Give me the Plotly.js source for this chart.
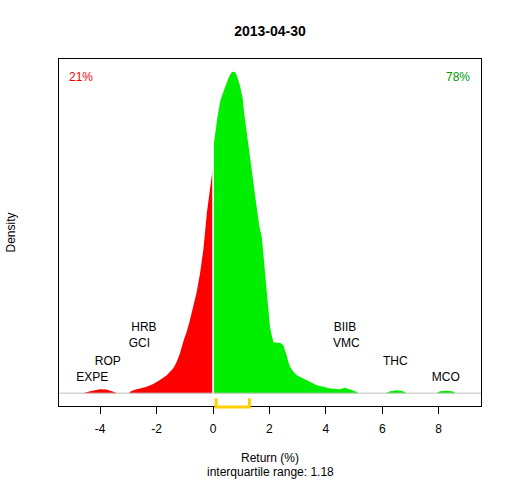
<!DOCTYPE html>
<html>
<head>
<meta charset="utf-8">
<script src="https://cdn.plot.ly/plotly-3.0.1.min.js"></script>
<style>html,body{margin:0;padding:0;background:#fff}#chart{width:512px;height:480px}</style>
</head>
<body>
<div id="chart"></div>
<script>
// Density of returns
const densX = [-4.61,-4.36,-4.01,-3.79,-3.58,-3.40,-2.99,-2.91,-2.77,-2.59,-2.35,-2.12,-1.88,-1.64,-1.40,-1.29,-1.17,-1.05,-0.93,-0.82,-0.70,-0.58,-0.46,-0.34,-0.22,-0.11,-0.05,-0.01,
  0.02,0.06,0.11,0.14,0.19,0.25,0.31,0.37,0.43,0.49,0.54,0.60,0.66,0.72,0.78,0.84,0.90,0.96,1.01,1.05,1.10,1.17,1.25,1.34,1.41,1.49,1.57,1.64,1.73,1.78,1.84,1.90,1.96,2.02,2.08,2.14,2.20,2.38,2.49,2.55,2.61,2.67,2.73,2.85,2.97,3.20,3.44,3.68,3.91,4.15,4.50,4.68,4.86,5.04,5.15,
  6.12,6.28,6.49,6.70,6.87,7.91,8.05,8.26,8.48,8.61];
const densY = [0,0.0025,0.005,0.0046,0.0025,0,0,0.0025,0.0044,0.0059,0.0079,0.0113,0.0163,0.0225,0.0313,0.039,0.05,0.065,0.077,0.091,0.108,0.126,0.15,0.18,0.225,0.254,0.275,0.281,
  0.31,0.318,0.3325,0.341,0.354,0.364,0.371,0.3775,0.384,0.389,0.393,0.3975,0.401,0.4016,0.401,0.3975,0.391,0.384,0.375,0.369,0.351,0.331,0.309,0.289,0.269,0.2475,0.229,0.209,0.195,0.175,0.145,0.12,0.10,0.0825,0.0725,0.064,0.0634,0.0629,0.06,0.054,0.0475,0.039,0.033,0.0266,0.0225,0.0184,0.0141,0.01,0.0079,0.0059,0.005,0.0066,0.0046,0.0025,0,
  0,0.0025,0.00375,0.003,0,0,0.0025,0.003,0.0025,0];

// Extreme stocks labels
const lowNames = ["EXPE","ROP","GCI","HRB"];
const lowX = [-4.28,-3.73,-2.61,-2.45];
const lowY = [0.0191,0.039,0.0609,0.0816];
const highNames = ["MCO","THC","VMC","BIIB"];
const highX = [8.25,6.46,4.73,4.68];
const highY = [0.0191,0.039,0.0609,0.0816];

const fracNeg = "21%";
const fracPos = "78%";
const quartiles = [0.11, 1.29];
const iqrText = "interquartile range: 1.18";
const dateTitle = "2013-04-30";
const tickVals = [-4,-2,0,2,4,6,8];

const negX=[], negY=[], posX=[], posY=[];
densX.forEach((x,i)=>{ if(x<=0){negX.push(x);negY.push(densY[i]);} else {posX.push(x);posY.push(densY[i]);} });
const yMax = Math.max(...densY);

const font = "Liberation Sans, Arial, sans-serif";
const traces = [
  {x:negX, y:negY, type:'scatter', mode:'lines', fill:'tozeroy', fillcolor:'#FF0000', line:{width:0, color:'#FF0000'}, hoverinfo:'skip'},
  {x:posX, y:posY, type:'scatter', mode:'lines', fill:'tozeroy', fillcolor:'#00EE00', line:{width:0, color:'#00EE00'}, hoverinfo:'skip'},
  {x:lowX.concat(highX), y:lowY.concat(highY), text:lowNames.concat(highNames), type:'scatter', mode:'text', textfont:{family:font,size:12,color:'#000'}, textposition:'middle center', hoverinfo:'skip'}
];

const layout = {
  width:512, height:480,
  margin:{l:59, r:31, t:59, b:74},
  paper_bgcolor:'#fff', plot_bgcolor:'#fff',
  showlegend:false,
  title:{text:'<b>'+dateTitle+'</b>', font:{family:font,size:14,color:'#000'}, x:0.5, xref:'paper', xanchor:'center', y:1-31/480, yref:'container', yanchor:'middle'},
  xaxis:{range:[-5.46,9.50], tickvals:tickVals, ticktext:tickVals.map(String), ticks:'outside', ticklen:7, tickcolor:'#000', tickwidth:1,
    ticklabelstandoff:5,
    showgrid:false, zeroline:false, showline:true, mirror:true, linecolor:'#000', linewidth:1,
    tickfont:{family:font,size:12,color:'#000'}},
  yaxis:{range:[-0.04*yMax, 1.04*yMax], showticklabels:false, ticks:'', showgrid:false, zeroline:false, showline:true, mirror:true, linecolor:'#000', linewidth:1},
  shapes:[
    {type:'line', xref:'paper', x0:0, x1:1, yref:'y', y0:0, y1:0, line:{color:'#BEBEBE', width:1}, layer:'above'},
    {type:'line', xref:'x', x0:0, x1:0, yref:'y', y0:0, y1:1.04*yMax, line:{color:'#FFFFFF', width:1.5}, layer:'above'},
    {type:'path', xref:'x', yref:'paper',
     path:`M ${quartiles[0]},${(406-398.3)/347} L ${quartiles[0]},${-(407-406)/347} L ${quartiles[1]},${-(407-406)/347} L ${quartiles[1]},${(406-398.3)/347}`,
     line:{color:'#FFD000', width:3}, layer:'above'}
  ],
  annotations:[
    {text:fracNeg, xref:'paper', yref:'paper', x:(67-59)/422, y:(406-77.3)/347, xanchor:'left', yanchor:'middle', showarrow:false, font:{family:font,size:12,color:'#FF0000'}},
    {text:fracPos, xref:'paper', yref:'paper', x:(472-59)/422, y:(406-77.3)/347, xanchor:'right', yanchor:'middle', showarrow:false, font:{family:font,size:12,color:'#009900'}},
    {text:'Return (%)', xref:'paper', yref:'paper', x:0.5, y:-(457.5-406)/347, xanchor:'center', yanchor:'middle', showarrow:false, font:{family:font,size:12,color:'#000'}},
    {text:iqrText, xref:'paper', yref:'paper', x:0.5, y:-(471.5-406)/347, xanchor:'center', yanchor:'middle', showarrow:false, font:{family:font,size:12,color:'#000'}},
    {text:'Density', xref:'paper', yref:'paper', x:-(59-10)/422, y:0.5, xanchor:'center', yanchor:'middle', textangle:-90, showarrow:false, font:{family:font,size:12,color:'#000'}}
  ]
};
Plotly.newPlot('chart', traces, layout, {staticPlot:true, displayModeBar:false});
</script>
</body>
</html>
